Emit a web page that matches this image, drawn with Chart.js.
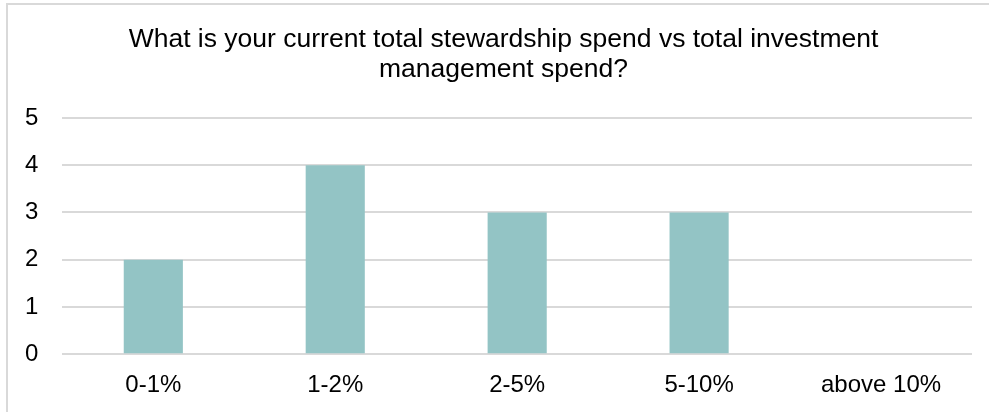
<!DOCTYPE html>
<html lang="en">
  <head>
    <meta charset="UTF-8" />
    <title>Stewardship spend</title>
    <script src="https://cdn.jsdelivr.net/npm/chart.js"></script>
    <style>
      html, body { margin: 0; padding: 0; background: #fff; }
      .frame {
        position: absolute; left: 6px; top: 3px; width: 1000px; height: 420px;
        border-top: 2px solid #d9d9d9; border-left: 2px solid #d9d9d9;
      }
      .wrap { position: absolute; left: 0; top: 0; width: 989px; height: 412px; }
    </style>
  </head>
  <body>
    <div class="frame"></div>
    <div class="wrap"><canvas id="spendChart" width="989" height="412"></canvas></div>

    <script>
      // survey answers
      const categories = ["0-1%", "1-2%", "2-5%", "5-10%", "above 10%"];
      const responses = [2, 4, 3, 3, 0];
      const titleLines = [
        "What is your current total stewardship spend vs total investment",
        "management spend?"
      ];

      // the title in the original sits centred on the whole frame, a bit right of the canvas middle
      const nudgeTitle = {
        id: "nudgeTitle",
        afterLayout(chart) {
          if (chart.titleBlock) {
            chart.titleBlock.left += 17;
            chart.titleBlock.right += 17;
          }
        }
      };

      const ctx = document.getElementById("spendChart").getContext("2d");
      new Chart(ctx, {
        type: "bar",
        data: {
          labels: categories,
          datasets: [{
            data: responses,
            backgroundColor: "#93c4c5",
            barPercentage: 0.325,
            categoryPercentage: 1
          }]
        },
        options: {
          responsive: false,
          animation: false,
          layout: { padding: { left: 1, right: 17, top: 0, bottom: 3 } },
          plugins: {
            legend: { display: false },
            tooltip: { enabled: false },
            title: {
              display: true,
              text: titleLines,
              color: "#000",
              font: { family: "Liberation Sans, Arial", size: 26.5, weight: "normal", lineHeight: "30px" },
              padding: { top: 25, bottom: 33 }
            }
          },
          scales: {
            x: {
              grid: { display: false },
              border: { display: false },
              ticks: { color: "#000", padding: 9, font: { family: "Liberation Sans, Arial", size: 24 } }
            },
            y: {
              min: 0,
              max: 5,
              border: { display: false },
              grid: { color: "#d9d9d9", lineWidth: 2, drawTicks: false },
              ticks: { stepSize: 1, color: "#000", padding: 24, font: { family: "Liberation Sans, Arial", size: 24 } }
            }
          }
        },
        plugins: [nudgeTitle]
      });
    </script>
  </body>
</html>
